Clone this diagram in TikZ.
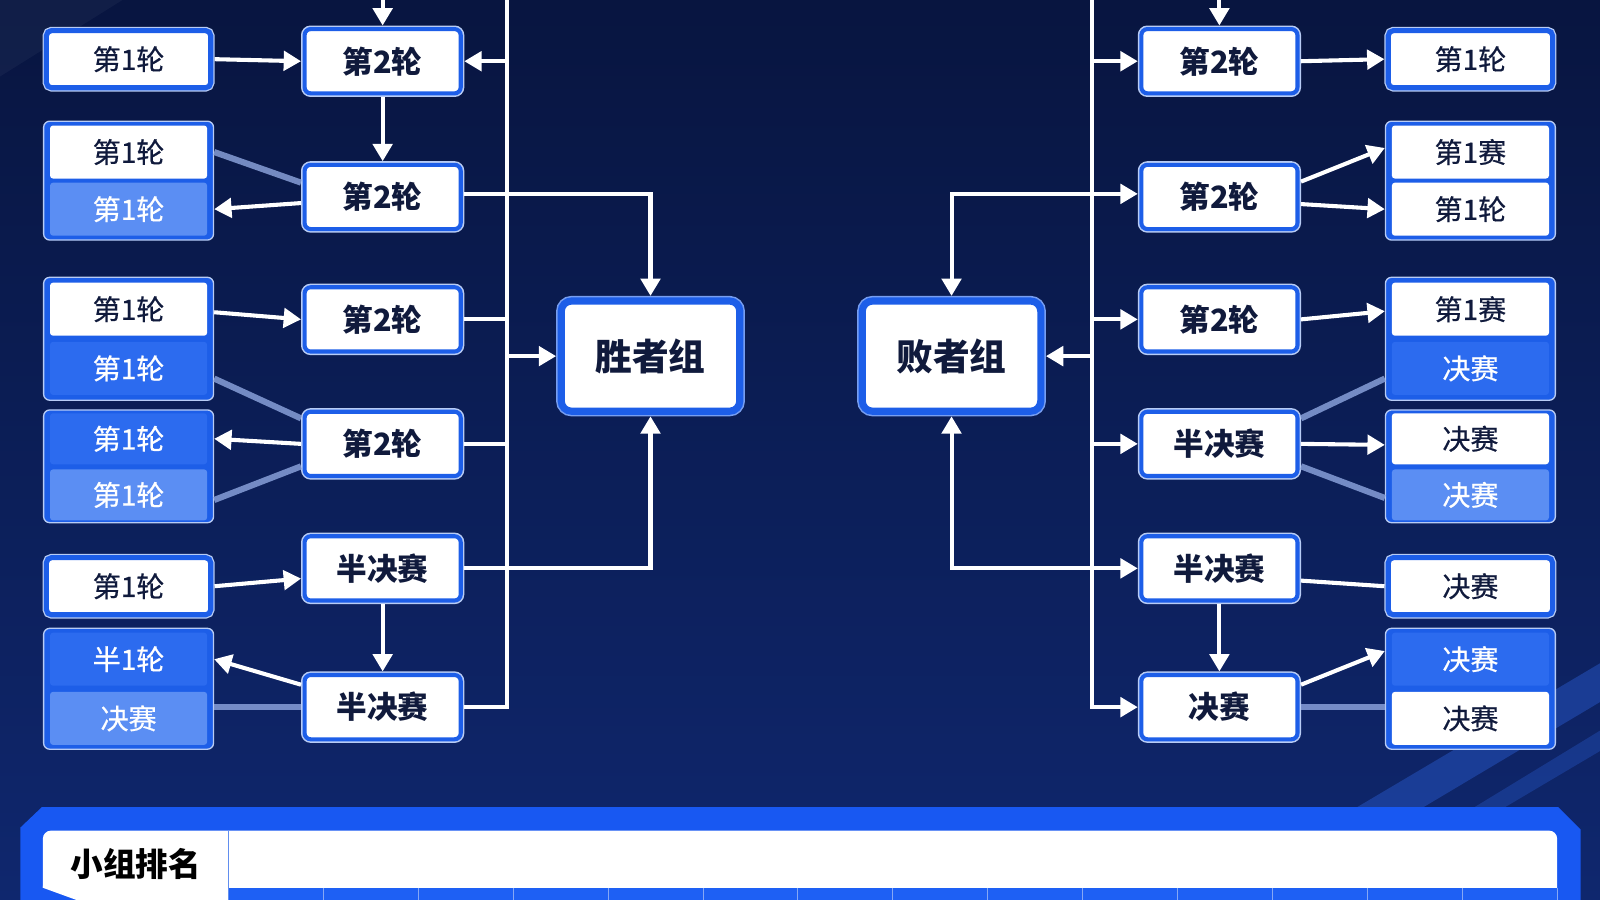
\documentclass[tikz,border=0pt]{standalone}
\usepackage{fontspec}
\setmainfont{Noto Sans CJK SC}
\newfontfamily\cellfam{Noto Sans CJK SC}[FakeBold=0.6]
\usetikzlibrary{arrows.meta,calc}
\definecolor{bgtop}{HTML}{081540}
\definecolor{bgbot}{HTML}{0F276E}
\definecolor{bord}{HTML}{1D5EE8}
\definecolor{rim}{HTML}{B8CCF5}
\definecolor{cellblue}{HTML}{2C6BEF}
\definecolor{celllight}{HTML}{5B8EF3}
\definecolor{ink}{HTML}{101A3C}
\definecolor{faintc}{HTML}{8FA7E0}
\definecolor{bandblue}{HTML}{1858F2}
\definecolor{rowblue}{HTML}{1E60F4}
\definecolor{divc}{HTML}{86A8F5}
\definecolor{streak}{HTML}{2A5CD0}
\newcommand\cellfont{\cellfam\fontsize{27.5pt}{27.5pt}\selectfont}
\newcommand\midfont{\bfseries\fontsize{30pt}{30pt}\selectfont}
\newcommand\bigfont{\bfseries\fontsize{36pt}{36pt}\selectfont}
\newcommand\rankfont{\bfseries\fontsize{32pt}{32pt}\selectfont}
\begin{document}
\begin{tikzpicture}[x=1pt,y=-1pt,
  every node/.style={inner sep=0pt},
  onebox/.style={draw=bord, line width=5pt, fill=white, rounded corners=5pt,
    preaction={draw=rim, line width=7.5pt}, minimum width=161pt, minimum height=56pt,
    outer sep=3.75pt, text=ink, font=\cellfont},
  pairbox/.style={draw=rim, line width=1.3pt, fill=bord, rounded corners=6pt,
    minimum width=166.5pt, outer sep=0.65pt},
  cw/.style={fill=white, rounded corners=3pt, minimum width=154pt, minimum height=52pt,
    text=ink, font=\cellfont},
  cb/.style={cw, fill=cellblue, text=white},
  cl/.style={cw, fill=celllight, text=white},
  midbox/.style={draw=bord, line width=4pt, fill=white, rounded corners=6pt,
    preaction={draw=rim, line width=7pt}, minimum width=153pt, minimum height=63pt,
    outer sep=3.5pt, text=ink, font=\midfont},
  bigbox/.style={draw=bord, line width=7pt, fill=white, rounded corners=10pt,
    preaction={draw=bord!60!white, line width=10pt}, minimum width=175pt, minimum height=108pt,
    outer sep=5pt, text=ink, font=\bigfont},
  arrw/.style={draw=white, line width=4pt, -{Triangle[length=17pt,width=19pt]}},
  arrb/.style={draw=white, line width=4pt, {Triangle[length=17pt,width=19pt]}-{Triangle[length=17pt,width=19pt]}},
  conn/.style={draw=white, line width=4pt},
  fade/.style={draw=faintc, line width=6pt, opacity=0.8},
]
\useasboundingbox (0,0) rectangle (1568,882);
% background
\shade[top color=bgtop, bottom color=bgbot] (0,0) rectangle (1568,882);
\fill[white, opacity=0.04] (0,0) -- (120,0) -- (0,75) -- cycle;
\fill[streak, opacity=0.45] (1330,791) -- (1395,791) -- (1568,688) -- (1568,650) -- cycle;
\fill[streak, opacity=0.35] (1445,791) -- (1475,791) -- (1568,736) -- (1568,716) -- cycle;

% bottom ranking band
\fill[bandblue] (20,811) -- (41,791) -- (1527,791) -- (1549,813) -- (1549,882) -- (20,882) -- cycle;
\fill[white] (42,870) [rounded corners=8pt] -- (42,814) -- (1526,814) [sharp corners] -- (1526,870) -- cycle;
\fill[white] (42,868) -- (224,868) -- (224,882) -- (75,882) -- (42,870) -- cycle;
\fill[rowblue] (224,870) rectangle (1526,882);
\foreach \i in {1,...,14} \draw[divc, line width=1pt] ({224+\i*93},870) -- ({224+\i*93},882);
\draw[bord!70!white, line width=1pt] (224,814) -- (224,882);
\node[font=\rankfont, text=black] (rank) at (133,847) {小组排名};

% left column
\node[onebox] (l1) at (126,58) {第1轮};
\node[pairbox, minimum height=116.5pt] (l2) at (126,177) {};
\node[cw] (l2a) at (126,149) {第1轮};
\node[cl] (l2b) at (126,205) {第1轮};
\node[pairbox, minimum height=120.5pt] (l3) at (126,332) {};
\node[cw] (l3a) at (126,303) {第1轮};
\node[cb] (l3b) at (126,361) {第1轮};
\node[pairbox, minimum height=110.5pt] (l4) at (126,457) {};
\node[cb, minimum height=50pt] (l4a) at (126,430) {第1轮};
\node[cl, minimum height=50pt] (l4b) at (126,485) {第1轮};
\node[onebox] (l5) at (126,574.5) {第1轮};
\node[pairbox, minimum height=118.5pt] (l6) at (126,675) {};
\node[cb] (l6a) at (126,646) {半1轮};
\node[cl] (l6b) at (126,704) {决赛};

% winners column
\node[midbox] (w1) at (375,60) {第2轮};
\node[midbox] (w2) at (375,193) {第2轮};
\node[midbox] (w3) at (375,313) {第2轮};
\node[midbox] (w4) at (375,435) {第2轮};
\node[midbox] (w5) at (375,557) {半决赛};
\node[midbox] (w6) at (375,693) {半决赛};

% centre
\node[bigbox] (wg) at (637.5,349) {胜者组};
\node[bigbox] (lg) at (932.5,349) {败者组};

% losers column
\node[midbox] (r1) at (1195,60) {第2轮};
\node[midbox] (r2) at (1195,193) {第2轮};
\node[midbox] (r3) at (1195,313) {第2轮};
\node[midbox] (r4) at (1195,435) {半决赛};
\node[midbox] (r5) at (1195,557) {半决赛};
\node[midbox] (r6) at (1195,693) {决赛};

% right column
\node[onebox] (rr1) at (1441,58) {第1轮};
\node[pairbox, minimum height=116.5pt] (rr2) at (1441,177) {};
\node[cw] (rr2a) at (1441,149) {第1赛};
\node[cw] (rr2b) at (1441,205) {第1轮};
\node[pairbox, minimum height=120.5pt] (rr3) at (1441,332) {};
\node[cw] (rr3a) at (1441,303) {第1赛};
\node[cb] (rr3b) at (1441,361) {决赛};
\node[pairbox, minimum height=110.5pt] (rr4) at (1441,457) {};
\node[cw, minimum height=50pt] (rr4a) at (1441,430) {决赛};
\node[cl, minimum height=50pt] (rr4b) at (1441,485) {决赛};
\node[onebox] (rr5) at (1441,574.5) {决赛};
\node[pairbox, minimum height=118.5pt] (rr6) at (1441,675) {};
\node[cb] (rr6a) at (1441,646) {决赛};
\node[cw] (rr6b) at (1441,704) {决赛};

% helper coordinates
\coordinate (lvtop) at (497,0);
\coordinate (rvtop) at (1070,0);
\coordinate (wtop) at (375,0);
\coordinate (rtop) at (1195,0);

% left trunk
\draw[conn] (lvtop) -- (lvtop |- w6) -- (w6.east);
\draw[arrw] (lvtop |- w1) -- (w1.east);
\draw[conn] (w3.east) -- (lvtop |- w3);
\draw[conn] (w4.east) -- (lvtop |- w4);
\draw[arrw] (lvtop |- wg) -- (wg.west);
\draw[arrw] ($(w2.east)+(0,-3)$) -| (wg.north);
\draw[arrw] (w5.east) -| (wg.south);

% right trunk
\draw[arrw] (rvtop) -- (rvtop |- r6) -- (r6.west);
\draw[arrw] (rvtop |- r1) -- (r1.west);
\draw[arrb] (lg.north) |- ($(r2.west)+(0,-3)$);
\draw[arrw] (rvtop |- r3) -- (r3.west);
\draw[arrw] (rvtop |- lg) -- (lg.east);
\draw[arrw] (rvtop |- r4) -- (r4.west);
\draw[arrb] (lg.south) |- (r5.west);

% left bracket
\draw[arrw] (wtop) -- (w1.north);
\draw[arrw] (l1.east) -- (w1.west);
\draw[arrw] (w1.south) -- (w2.north);
\draw[fade] (l2.east |- l2a) -- ($(w2.west)+(0,-14)$);
\draw[arrw] ($(w2.west)+(0,6)$) -- (l2.east |- l2b);
\draw[arrw] ($(l3.east |- l3a)+(0,3)$) -- (w3.west);
\draw[fade] ($(l3.east |- l3b)+(0,10)$) -- ($(w4.west)+(0,-25)$);
\draw[arrw] (w4.west) -- (l4.east |- l4a);
\draw[fade] ($(l4.east |- l4b)+(0,5)$) -- ($(w4.west)+(0,22)$);
\draw[arrw] (l5.east) -- ($(w5.west)+(0,10)$);
\draw[arrw] (w5.south) -- (w6.north);
\draw[arrw] ($(w6.west)+(0,-22)$) -- (l6.east |- l6a);
\draw[fade] (l6.east |- w6) -- (w6.west);

% right bracket
\draw[arrw] (rtop) -- (r1.north);
\draw[arrw] (r1.east) -- (rr1.west);
\draw[arrw] ($(r2.east)+(0,-15)$) -- ($(rr2.west |- rr2a)+(0,-4)$);
\draw[arrw] ($(r2.east)+(0,7)$) -- (rr2.west |- rr2b);
\draw[arrw] (r3.east) -- ($(rr3.west |- rr3a)+(0,2)$);
\draw[fade] ($(r4.east)+(0,-25)$) -- ($(rr3.west |- rr3b)+(0,10)$);
\draw[arrw] (r4.east) -- ($(rr4.west |- rr4a)+(0,6)$);
\draw[fade] ($(r4.east)+(0,22)$) -- ($(rr4.west |- rr4b)+(0,3)$);
\draw[conn] ($(r5.east)+(0,12)$) -- (rr5.west);
\draw[arrw] (r5.south) -- (r6.north);
\draw[arrw] ($(r6.east)+(0,-22)$) -- ($(rr6.west |- rr6a)+(0,-8)$);
\draw[fade] (r6.east) -- (rr6.west |- r6);
\end{tikzpicture}
\end{document}
